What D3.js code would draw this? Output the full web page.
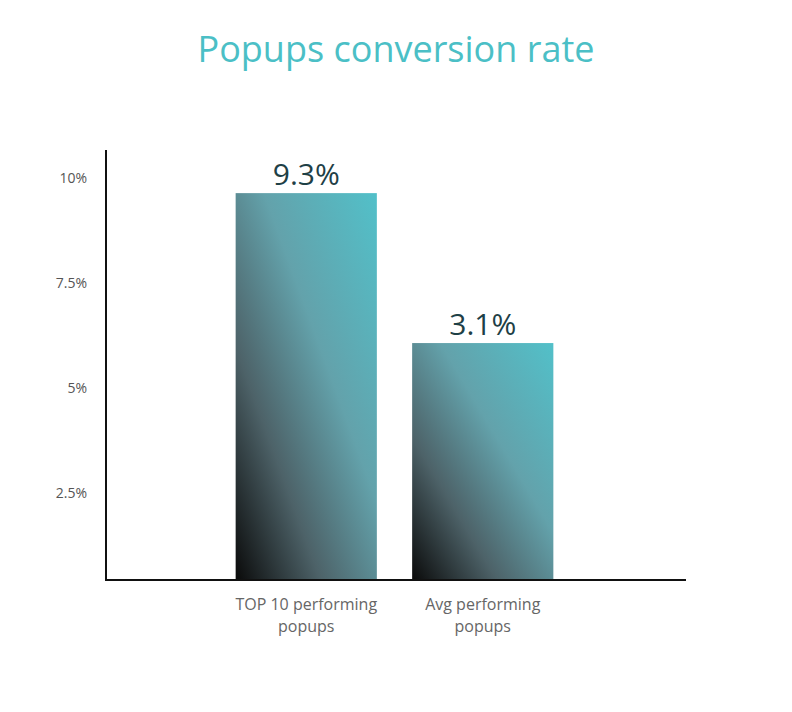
<!DOCTYPE html>
<html><head><meta charset="utf-8">
<script src="https://cdn.jsdelivr.net/npm/d3@7"></script>
<style>body{margin:0;background:#fff}</style></head>
<body><svg id="c" width="792" height="712"></svg>
<script>
const categories = [["TOP 10 performing","popups"],["Avg performing","popups"]];
const valueLabels = ["9.3%","3.1%"];
// bar heights as drawn in the picture, in axis units
const barHeights = [9.64, 6.07];
const tickValues = [2.5,5,7.5,10];
const tickLabels = ["2.5%","5%","7.5%","10%"];

const svg = d3.select("#c");
const y = d3.scaleLinear().domain([0,10]).range([598,178]);
const x = d3.scaleBand().domain([0,1]).range([218,571]).paddingInner(0.2).paddingOuter(0.1);
const base = 580;

const defs = svg.append("defs");
const g = defs.append("linearGradient").attr("id","grad").attr("x1",0).attr("y1",1).attr("x2",1).attr("y2",0);
[[0,"#0a0a0a"],[0.3,"#4d6268"],[0.6,"#63a2ab"],[1,"#52c0c9"]].forEach(s=>g.append("stop").attr("offset",s[0]).attr("stop-color",s[1]));

svg.append("text").attr("x",396).attr("y",62).attr("text-anchor","middle")
  .attr("font-family","Open Sans, sans-serif").attr("font-size",36).attr("fill","#4bbfc6").text("Popups conversion rate");

svg.selectAll("rect.bar").data(barHeights).join("rect").attr("class","bar")
  .attr("x",(d,i)=>x(i)).attr("width",x.bandwidth()).attr("y",d=>y(d)).attr("height",d=>base-y(d)).attr("fill","url(#grad)");

svg.selectAll("text.val").data(valueLabels).join("text").attr("class","val")
  .attr("x",(d,i)=>x(i)+x.bandwidth()/2).attr("y",(d,i)=>y(barHeights[i])-8).attr("text-anchor","middle")
  .attr("font-family","Open Sans, sans-serif").attr("font-size",30).attr("fill","#1e4046").text(d=>d);

svg.append("line").attr("x1",106).attr("x2",106).attr("y1",150).attr("y2",base+1).attr("stroke","#111").attr("stroke-width",2);
svg.append("line").attr("x1",105).attr("x2",686).attr("y1",base).attr("y2",base).attr("stroke","#111").attr("stroke-width",2);

svg.selectAll("text.tick").data(tickValues).join("text").attr("class","tick")
  .attr("x",87).attr("y",d=>y(d)+5).attr("text-anchor","end")
  .attr("font-family","Open Sans, sans-serif").attr("font-size",14).attr("fill","#555").text((d,i)=>tickLabels[i]);

categories.forEach((lines,i)=>{
  lines.forEach((t,j)=>svg.append("text").attr("x",x(i)+x.bandwidth()/2).attr("y",610+j*22).attr("text-anchor","middle")
    .attr("font-family","Open Sans, sans-serif").attr("font-size",16).attr("fill","#666").text(t));
});
</script></body></html>
